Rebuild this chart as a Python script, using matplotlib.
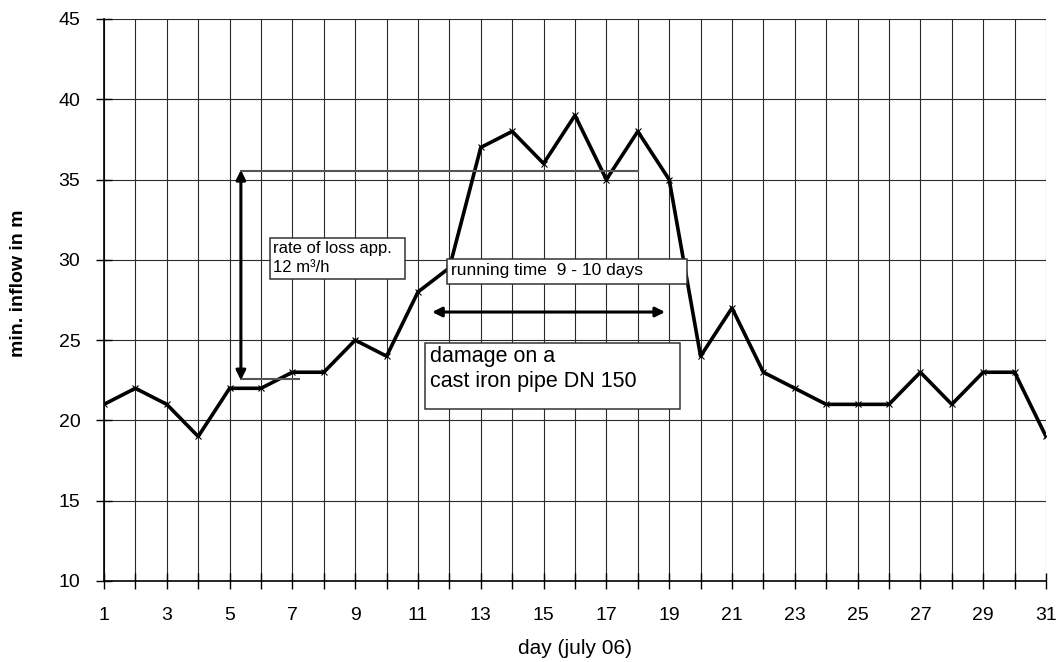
import matplotlib
matplotlib.use('Agg')
import matplotlib.pyplot as plt
from matplotlib.patches import Rectangle

plt.rcParams['font.family'] = ['Liberation Sans', 'DejaVu Sans']

# daily minimum inflow, july 2006
days = list(range(1, 32))
inflow = [21, 22, 21, 19, 22, 22, 23, 23, 25, 24, 28, 29.5, 37, 38, 36, 39,
          35, 38, 35, 24, 27, 23, 22, 21, 21, 21, 23, 21, 23, 23, 19]

x_labels = [str(d) if d % 2 == 1 else '' for d in days]
y_ticks = [10, 15, 20, 25, 30, 35, 40, 45]

fig = plt.figure(figsize=(10.59, 6.62), dpi=100)
ax = fig.add_axes([0.0982, 0.1224, 0.8895, 0.8489])

# grid
for d in days:
    ax.axvline(d, color='#2a2a2a', lw=0.8, zorder=1)
for v in y_ticks[1:]:
    ax.axhline(v, color='#2a2a2a', lw=0.8, zorder=1)

ax.plot(days, inflow, color='black', lw=2.6, marker='x', ms=5, mew=0.8, zorder=3)

ax.set_xlim(1, 31)
ax.set_ylim(10, 45)
ax.set_xticks(days)
ax.set_xticklabels(x_labels)
ax.set_yticks(y_ticks)
ax.tick_params(direction='inout', length=12, width=1, labelsize=14)
ax.tick_params(axis='x', pad=13)
ax.tick_params(axis='y', pad=11)
for s in ['top', 'right']:
    ax.spines[s].set_visible(False)
ax.spines['left'].set_linewidth(1.2)
ax.spines['bottom'].set_linewidth(1.2)

ax.set_xlabel('day (july 06)', fontsize=15)
ax.xaxis.set_label_coords(0.5, -0.104)
ax.set_ylabel('min. inflow in m', fontsize=14, fontweight='bold')
ax.yaxis.set_label_coords(-0.082, 0.53)

box_style = dict(fc='white', ec='#333333', lw=1.1, zorder=6)

# rate of loss annotation
ax.plot([5.36, 18.0], [35.55, 35.55], color='#555555', lw=1.5, zorder=4)
ax.plot([5.36, 7.2], [22.55, 22.55], color='#555555', lw=1.5, zorder=4)
ax.annotate('', xy=(5.36, 35.6), xytext=(5.36, 22.5),
            arrowprops=dict(arrowstyle='<|-|>', color='black', lw=2.2,
                            mutation_scale=14, shrinkA=0, shrinkB=0), zorder=5)
ax.add_patch(Rectangle((6.29, 28.81), 4.30, 2.55, **box_style))
ax.text(6.38, 30.1, 'rate of loss app.\n12 m³/h', fontsize=12, ha='left', va='center',
        linespacing=1.3, zorder=7)

# running time annotation
ax.annotate('', xy=(11.45, 26.75), xytext=(18.87, 26.75),
            arrowprops=dict(arrowstyle='<|-|>', color='black', lw=2.2,
                            mutation_scale=14, shrinkA=0, shrinkB=0), zorder=5)
ax.add_patch(Rectangle((11.92, 28.50), 7.65, 1.55, **box_style))
ax.text(12.05, 29.35, 'running time  9 - 10 days', fontsize=12.5, ha='left', va='center',
        zorder=7)

ax.add_patch(Rectangle((11.22, 20.71), 8.12, 4.11, **box_style))
ax.text(11.38, 23.2, 'damage on a\ncast iron pipe DN 150', fontsize=15.5, ha='left',
        va='center', linespacing=1.25, zorder=7)

fig.savefig('out.png', dpi=100)
